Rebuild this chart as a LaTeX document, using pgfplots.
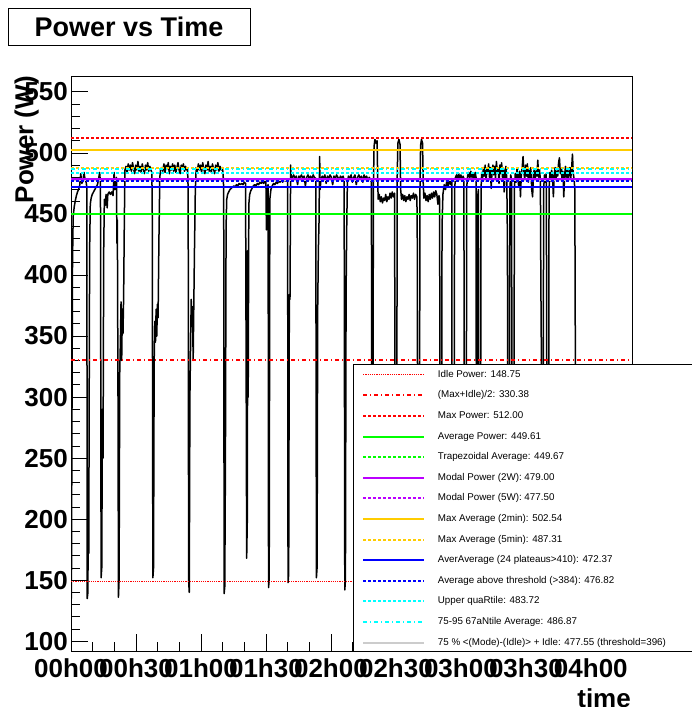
\documentclass[border=0pt]{standalone}
\usepackage{fontspec}
\setmainfont{Liberation Sans}
\usepackage{pgfplots}
\pgfplotsset{compat=1.18}
\definecolor{rred}{RGB}{255,0,0}
\definecolor{rgreen}{RGB}{0,255,0}
\definecolor{rviolet}{RGB}{187,0,255}
\definecolor{rorange}{RGB}{255,204,0}
\definecolor{rblue}{RGB}{0,0,255}
\definecolor{rcyan}{RGB}{0,255,255}
\definecolor{rgray}{RGB}{204,204,204}
\begin{document}
\begin{tikzpicture}
\begin{axis}[
  scale only axis, width=561pt, height=575pt,
  xmin=0, xmax=259, ymin=92, ymax=563,
  axis line style={black, line width=0.8pt},
  xtick={0,30,...,240},
  xticklabels={00h00,00h30,01h00,01h30,02h00,02h30,03h00,03h30,04h00},
  minor x tick num=2,
  ytick={100,150,...,550},
  yticklabels={100,150,200,250,300,350,400,450,500,550},
  minor y tick num=4,
  tick align=inside, tick pos=left,
  major tick length=17pt, minor tick length=9pt,
  every tick/.style={black, line width=0.8pt},
  xticklabel style={font=\fontsize{26}{26}\selectfont\bfseries, inner sep=0pt, anchor=north, yshift=-7pt},
  yticklabel style={font=\fontsize{26}{26}\selectfont\bfseries, inner sep=0pt, anchor=east, xshift=-3pt},
  legend image code/.code={\draw[#1] (0pt,0pt) -- (61pt,0pt);},
  legend cell align=left,
  legend style={at={(0.5027,0.4991)}, anchor=north west, draw=none, fill=white,
    inner xsep=9pt, inner ysep=5.5pt, row sep=10.6pt, column sep=12.7pt,
    font=\fontsize{9.8}{11}\selectfont,
    nodes={inner sep=0pt, text height=7.5pt, text depth=2.5pt}},
]
% measured power trace
\addplot[draw=black, line width=1.5pt, line join=round, forget plot] coordinates {
(0,128) (0.2,140) (0.4,260) (0.7,410) (1.0,448) (1.5,456) (2.0,461) (2.5,465) (3.0,468) (3.5,470) (4.0,473) (4.5,483) (5.0,475) (5.5,477) (6.0,484) (6.5,478) (7.0,476) (7.3,472)
(7.5,135) (7.8,140) (8.0,215) (8.2,172) (8.4,300) (8.6,420) (8.9,458) (9.3,463) (9.8,466) (10.4,468) (11.0,470) (11.6,472) (12.2,474) (12.7,478) (13.2,484) (13.6,476)
(13.9,152) (14.2,160) (14.5,290) (14.8,250) (15.1,420) (15.4,462) (15.8,457) (16.2,466) (16.7,455) (17.0,466) (17.6,468) (18.2,466) (18.8,468) (19.4,465) (19.9,484) (20.3,470) (20.7,472)
(21.0,480) (21.2,426) (21.4,445) (21.7,300) (21.9,136) (22.2,150) (22.5,320) (22.8,345) (23.1,378) (23.4,330) (23.7,372) (24.0,352) (24.3,382) (24.6,440) (24.9,486)
(25.4,489) (25.9,484) (26.4,491) (26.9,486) (27.4,490) (27.9,485) (28.4,492) (28.9,487) (29.4,483) (29.9,490) (30.4,486) (30.9,493) (31.4,485) (31.9,489) (32.4,484) (32.9,491) (33.4,487) (33.9,483) (34.4,490) (34.9,486) (35.4,492) (35.9,485) (36.4,489) (36.9,486) (37.3,484)
(37.5,462) (37.8,152) (38.1,160) (38.4,330) (38.7,362) (39.0,345) (39.3,372) (39.6,350) (39.9,376) (40.2,365) (40.6,430) (41.0,480) (41.4,487)
(41.9,488) (42.4,485) (42.9,491) (43.4,484) (43.9,490) (44.4,487) (44.9,492) (45.4,483) (45.9,489) (46.4,486) (46.9,491) (47.4,485) (47.9,490) (48.4,484) (48.9,488) (49.4,492) (49.9,486) (50.4,483) (50.9,490) (51.4,487) (51.9,491) (52.4,485) (52.9,489) (53.4,486) (53.8,487)
(54.1,470) (54.3,150) (54.6,140) (54.9,300) (55.2,342) (55.5,380) (55.8,358) (56.1,374) (56.4,330) (56.7,376) (57.0,420) (57.4,470) (57.8,488)
(58.3,485) (58.8,491) (59.3,486) (59.8,490) (60.3,484) (60.8,492) (61.3,487) (61.8,483) (62.3,490) (62.8,486) (63.3,493) (63.8,485) (64.3,489) (64.8,484) (65.3,491) (65.8,487) (66.3,483) (66.8,490) (67.3,486) (67.8,492) (68.3,485) (68.8,489) (69.3,486) (69.8,488) (70.2,484)
(70.5,470) (70.7,139) (71.0,145) (71.3,250) (71.6,440) (71.9,462) (72.3,466) (72.8,468) (73.4,470) (74.0,471) (74.6,472) (75.2,473) (75.8,472) (76.4,474) (77.0,473) (77.6,475) (78.2,474) (78.8,475) (79.4,474) (80.0,476) (80.6,475)
(80.9,300) (81.1,168) (81.4,200) (81.6,420) (81.8,300) (82.1,458) (82.5,466) (83.0,469) (83.6,471) (84.2,473) (84.8,474) (85.4,473) (86.0,475) (86.6,474) (87.2,476) (87.8,475) (88.4,476) (89.0,475) (89.6,477) (90.0,476)
(90.2,437) (90.4,438) (90.6,472) (91.0,474) (91.2,144) (91.5,150) (91.8,462) (92.3,470) (92.9,473) (93.5,475) (94.1,474) (94.7,476) (95.3,475) (95.9,477) (96.5,476) (97.1,478) (97.7,476) (98.3,478) (98.9,477) (99.5,478) (100.0,477)
(100.2,148) (100.5,155) (100.8,384) (101.1,380) (101.4,490) (101.7,478) (102.2,480) (102.8,482) (103.4,479) (104.0,481) (104.6,474) (105.2,481) (105.8,480) (106.4,482) (107.0,479) (107.6,481) (108.2,473) (108.8,480) (109.4,482) (110.0,479) (110.6,481) (111.2,478) (111.8,482) (112.4,480) (113.0,479)
(113.3,152) (113.6,160) (113.9,373) (114.2,420) (114.5,443) (114.8,497) (115.0,470) (115.4,478) (116.0,481) (116.6,479) (117.2,482) (117.8,475) (118.4,481) (119.0,479) (119.6,482) (120.2,480) (120.8,474) (121.4,481) (122.0,479) (122.6,482) (123.2,480) (123.8,478) (124.4,481) (125.0,479) (125.6,481) (126.1,478)
(126.4,142) (126.7,150) (127.0,386) (127.3,440) (127.6,476) (128.1,481) (128.7,479) (129.3,482) (129.9,476) (130.5,480) (131.1,482) (131.7,474) (132.3,480) (132.9,482) (133.5,479) (134.1,481) (134.7,476) (135.3,482) (135.9,479) (136.5,481) (137.1,477) (137.7,480) (138.3,478) (138.7,476)
(138.9,150) (139.3,150) (139.6,470) (139.9,505) (140.3,511) (140.8,508) (141.3,510) (141.6,480) (141.8,462) (142.3,466) (142.8,460) (143.3,464) (143.8,459) (144.3,463) (144.8,461) (145.3,466) (145.8,460) (146.3,464) (146.8,462) (147.3,467) (147.8,463) (148.3,468) (148.8,464) (149.4,467)
(149.7,150) (150.3,150) (150.6,480) (150.9,508) (151.4,511) (151.9,507) (152.2,470) (152.6,462) (153.1,466) (153.6,461) (154.1,465) (154.6,460) (155.1,464) (155.6,462) (156.1,466) (156.6,461) (157.1,465) (157.6,463) (158.1,467) (158.6,462) (159.1,466) (159.7,464)
(159.9,420) (160.1,150) (160.8,150) (161.1,470) (161.4,506) (161.8,511) (162.3,508) (162.6,476) (162.9,463) (163.4,467) (163.9,461) (164.4,465) (164.9,460) (165.4,466) (165.9,462) (166.4,467) (166.9,463) (167.4,468) (167.9,464) (168.4,469) (168.9,466) (169.4,458) (169.9,465) (170.2,462)
(170.4,150) (171.0,150) (171.3,440) (171.7,466) (172.3,474) (172.9,470) (173.5,477) (174.1,472) (174.7,478) (175.3,474) (175.8,479)
(176.0,150) (176.8,150) (177.1,470) (177.5,480) (178.0,482) (178.5,478) (179.0,483) (179.5,479) (180.0,482) (180.5,477) (181.0,481) (181.4,479)
(181.6,150) (182.4,150) (182.7,472) (183.1,481) (183.6,484) (184.1,479) (184.6,485) (185.1,480) (185.6,483) (186.1,478) (186.6,484) (187.0,480)
(187.2,150) (187.6,150) (187.8,465) (188.1,470) (188.3,150) (189.0,150) (189.3,470) (189.6,484) (190.0,478) (190.4,488) (190.8,481) (191.2,490) (191.6,477) (192.0,487) (192.4,483) (192.8,491) (193.2,480) (193.6,488) (194.0,471) (194.4,486) (194.8,490) (195.2,482) (195.6,489) (196.0,479) (196.4,493) (196.8,484) (197.2,488) (197.6,475) (198.0,490) (198.4,483) (198.8,492) (199.2,480) (199.6,487) (200.0,468) (200.4,485) (200.8,489) (201.2,478)
(201.5,425) (201.7,150) (202.3,150) (202.6,470) (203.0,482) (203.4,478)
(203.7,150) (204.4,150) (204.7,470) (205.1,483) (205.5,476) (205.9,487) (206.3,480) (206.7,472) (207.1,485) (207.5,464) (207.9,482) (208.3,488) (208.7,497) (209.1,484) (209.5,478) (209.9,490) (210.3,481) (210.7,491) (211.1,476) (211.5,486) (211.9,480) (212.3,488) (212.7,470) (213.1,464) (213.5,482) (213.9,487) (214.3,479) (214.7,485) (215.1,481) (215.5,494) (215.9,480) (216.3,486) (216.7,478)
(216.9,400) (217.1,349) (217.3,150) (217.9,150) (218.2,470) (218.6,482) (219.0,476) (219.4,483) (219.6,375) (219.8,150) (220.4,150) (220.7,470) (221.1,484) (221.5,477) (221.9,486) (222.3,480) (222.7,464) (223.1,483) (223.5,488) (223.9,479) (224.3,485) (224.7,481) (225.1,492) (225.5,496) (225.9,483) (226.3,487) (226.7,478) (227.1,485) (227.5,464) (227.9,482) (228.3,489) (228.7,480) (229.1,486) (229.5,477) (229.9,484) (230.3,488) (230.7,479) (231.1,486) (231.5,499) (231.9,483) (232.3,478) (232.6,470)
(232.9,300) (233.2,160) (233.5,150) (234.0,148)
};
% gray line drawn first (hidden under violet)
\addplot[draw=rgray, line width=2pt, forget plot] coordinates {(0,477.55) (259,477.55)};
\addplot[draw=rred, line width=1.3pt, dash pattern=on 1.2pt off 1pt] coordinates {(0,148.75) (259,148.75)};
\addlegendentry{Idle Power: 148.75}
\addplot[draw=rred, line width=2pt, dash pattern=on 4pt off 3pt on 1pt off 3pt] coordinates {(0,330.38) (259,330.38)};
\addlegendentry{(Max+Idle)/2: 330.38}
\addplot[draw=rred, line width=2pt, dash pattern=on 3pt off 2pt] coordinates {(0,512) (259,512)};
\addlegendentry{Max Power: 512.00}
\addplot[draw=rgreen, line width=2pt] coordinates {(0,449.61) (259,449.61)};
\addlegendentry{Average Power: 449.61}
\addplot[draw=rgreen, line width=2pt, dash pattern=on 3pt off 2pt] coordinates {(0,449.67) (259,449.67)};
\addlegendentry{Trapezoidal Average: 449.67}
\addplot[draw=rviolet, line width=2pt] coordinates {(0,479) (259,479)};
\addlegendentry{Modal Power (2W): 479.00}
\addplot[draw=rviolet, line width=2pt, dash pattern=on 3pt off 2pt] coordinates {(0,477.5) (259,477.5)};
\addlegendentry{Modal Power (5W): 477.50}
\addplot[draw=rorange, line width=2pt] coordinates {(0,502.54) (259,502.54)};
\addlegendentry{Max Average (2min): 502.54}
\addplot[draw=rorange, line width=2pt, dash pattern=on 3pt off 2pt] coordinates {(0,487.31) (259,487.31)};
\addlegendentry{Max Average (5min): 487.31}
\addplot[draw=rblue, line width=2pt] coordinates {(0,472.37) (259,472.37)};
\addlegendentry{AverAverage (24 plateaus>410): 472.37}
\addplot[draw=rblue, line width=2pt, dash pattern=on 3pt off 2pt] coordinates {(0,476.82) (259,476.82)};
\addlegendentry{Average above threshold (>384): 476.82}
\addplot[draw=rcyan, line width=2pt, dash pattern=on 3pt off 2pt] coordinates {(0,483.72) (259,483.72)};
\addlegendentry{Upper quaRtile: 483.72}
\addplot[draw=rcyan, line width=2pt, dash pattern=on 4pt off 3pt on 1pt off 3pt] coordinates {(0,486.87) (259,486.87)};
\addlegendentry{75-95 67aNtile Average: 486.87}
\addlegendimage{draw=rgray, line width=2pt}
\addlegendentry{75 \% <(Mode)-(Idle)> + Idle: 477.55 (threshold=396)\hspace*{60pt}}
\end{axis}
% legend frame (extends past the right edge, as in the reference)
\draw[line width=0.8pt] (282pt,0pt) -- (282pt,287pt) -- (700pt,287pt);
\draw[line width=0.8pt] (282pt,0pt) -- (700pt,0pt);
\node[draw=black, line width=0.8pt, fill=white, minimum width=242pt, minimum height=37pt, inner sep=0pt, font=\fontsize{27}{27}\selectfont\bfseries] at (58pt,624.5pt) {Power vs Time};
\node[rotate=90, anchor=east, inner sep=0pt, font=\fontsize{26}{26}\selectfont\bfseries] at (-44.4pt,575pt) {Power (W)};
\node[anchor=base east, inner sep=0pt, font=\fontsize{26}{26}\selectfont\bfseries] at (560pt,-56.5pt) {time};
\pgfresetboundingbox
\path (-71pt,-56pt) rectangle (621pt,651pt);
\end{tikzpicture}
\end{document}
